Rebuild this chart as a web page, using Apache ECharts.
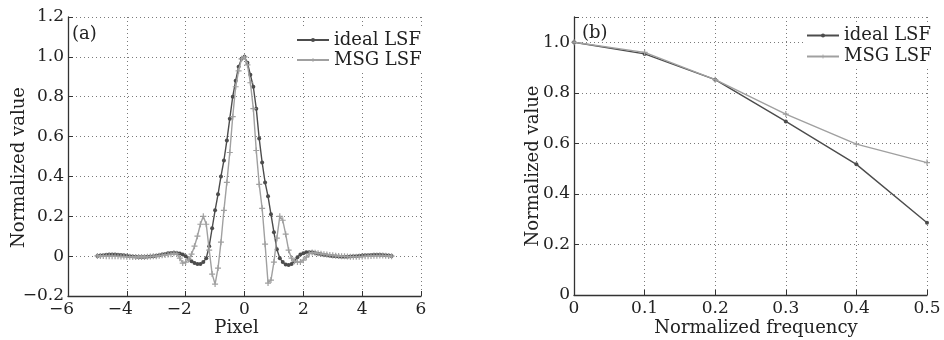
<!DOCTYPE html>
<html>
<head>
<meta charset="utf-8">
<script src="https://cdn.jsdelivr.net/npm/echarts@6/dist/echarts.min.js"></script>
<style>
  html, body { margin: 0; padding: 0; background: #fff; }
  #chart { width: 944px; height: 340px; }
</style>
</head>
<body>
<div id="chart"></div>
<script>
// (a) line spread functions, sampled every 0.1 pixel
const pixelX = [
  -5.0, -4.9, -4.8, -4.7, -4.6, -4.5, -4.4, -4.3, -4.2, -4.1,
  -4.0, -3.9, -3.8, -3.7, -3.6, -3.5, -3.4, -3.3, -3.2, -3.1,
  -3.0, -2.9, -2.8, -2.7, -2.6, -2.5, -2.4, -2.3, -2.2, -2.1,
  -2.0, -1.9, -1.8, -1.7, -1.6, -1.5, -1.4, -1.3, -1.2, -1.1,
  -1.0, -0.9, -0.8, -0.7, -0.6, -0.5, -0.4, -0.3, -0.2, -0.1,
  0.0, 0.1, 0.2, 0.3, 0.4, 0.5, 0.6, 0.7, 0.8, 0.9,
  1.0, 1.1, 1.2, 1.3, 1.4, 1.5, 1.6, 1.7, 1.8, 1.9,
  2.0, 2.1, 2.2, 2.3, 2.4, 2.5, 2.6, 2.7, 2.8, 2.9,
  3.0, 3.1, 3.2, 3.3, 3.4, 3.5, 3.6, 3.7, 3.8, 3.9,
  4.0, 4.1, 4.2, 4.3, 4.4, 4.5, 4.6, 4.7, 4.8, 4.9,
  5.0
];

const idealLSF = [
  0.001, 0.003, 0.005, 0.007, 0.008, 0.008, 0.008, 0.007, 0.006, 0.004,
  0.002, 0.000, -0.002, -0.003, -0.004, -0.004, -0.004, -0.003, -0.002, 0.000,
  0.002, 0.005, 0.008, 0.011, 0.014, 0.016, 0.017, 0.016, 0.013, 0.008,
  0.000, -0.012, -0.025, -0.035, -0.040, -0.040, -0.030, -0.010, 0.050, 0.140,
  0.230, 0.310, 0.400, 0.480, 0.580, 0.690, 0.800, 0.880, 0.950, 0.990,
  1.000, 0.970, 0.910, 0.850, 0.740, 0.590, 0.470, 0.370, 0.300, 0.210,
  0.120, 0.035, -0.010, -0.030, -0.042, -0.045, -0.040, -0.025, -0.005, 0.008,
  0.015, 0.019, 0.020, 0.019, 0.016, 0.012, 0.009, 0.006, 0.004, 0.002,
  0.000, -0.001, -0.002, -0.003, -0.003, -0.003, -0.002, -0.001, 0.000, 0.002,
  0.003, 0.004, 0.005, 0.006, 0.007, 0.007, 0.007, 0.006, 0.005, 0.003,
  0.001
];

const msgLSF = [
  0.001, 0.001, 0.001, 0.000, 0.000, 0.000, -0.001, -0.001, -0.002, -0.002,
  -0.003, -0.003, -0.004, -0.004, -0.004, -0.004, -0.004, -0.003, -0.002, -0.001,
  0.000, 0.002, 0.004, 0.006, 0.008, 0.010, 0.014, 0.012, -0.010, -0.035,
  -0.030, -0.015, 0.010, 0.050, 0.100, 0.160, 0.200, 0.160, 0.030, -0.090,
  -0.140, -0.060, 0.070, 0.230, 0.370, 0.520, 0.700, 0.850, 0.930, 0.990,
  1.000, 0.960, 0.870, 0.740, 0.530, 0.360, 0.240, 0.060, -0.135, -0.120,
  -0.030, 0.090, 0.200, 0.180, 0.110, 0.030, -0.010, -0.025, -0.030, -0.030,
  -0.020, -0.005, 0.012, 0.018, 0.017, 0.014, 0.012, 0.010, 0.008, 0.006,
  0.004, 0.002, 0.001, 0.000, -0.001, -0.002, -0.003, -0.003, -0.003, -0.003,
  -0.002, -0.001, 0.000, 0.001, 0.002, 0.002, 0.003, 0.003, 0.002, 0.001,
  0.000
];

// (b) response vs normalized frequency
const freq = [0, 0.1, 0.2, 0.3, 0.4, 0.5];
const idealMTF = [1.0, 0.954, 0.852, 0.687, 0.517, 0.286];
const msgMTF = [1.0, 0.960, 0.852, 0.716, 0.597, 0.524];

const seriesNames = ['ideal LSF', 'MSG LSF'];

const FONT = '"DejaVu Serif", serif';
const TEXT = '#222';
const AXIS = '#333';
const DARK = '#4c4c4c';
const LIGHT = '#a0a0a0';
const PLUS = 'path://M2,0H3V2H5V3H3V5H2V3H0V2H2Z';

const chart = echarts.init(document.getElementById('chart'));

const fmtDec = (v) => {
  if (Math.abs(v) < 1e-9) return '0';
  return (v < 0 ? '\u2212' : '') + Math.abs(v).toFixed(1);
};

// negative pixel labels: keep digit centred on the tick, minus hangs left
const fmtPixel = (v) => {
  if (v < 0) return '{m|\u2212}' + Math.abs(v) + '{s|}';
  return String(v);
};

const gridLine = { show: true, lineStyle: { color: '#7a7a7a', width: 1, type: [1, 3] } };
const axisLine = { show: true, onZero: false, lineStyle: { color: AXIS, width: 1.3 } };
const axisTick = { show: true, inside: true, length: 5, lineStyle: { color: AXIS, width: 1 } };
const nameStyle = (pad) => ({ fontFamily: FONT, fontSize: 18, color: TEXT, padding: pad });

const lineSeries = (name, xs, ys, axisIdx) => {
  const dark = name === seriesNames[0];
  return {
    name,
    type: 'line',
    xAxisIndex: axisIdx,
    yAxisIndex: axisIdx,
    data: xs.map((x, i) => [x, ys[i]]),
    symbol: dark ? 'circle' : PLUS,
    symbolSize: dark ? 4 : 6,
    lineStyle: { color: dark ? DARK : LIGHT, width: 1.4 },
    itemStyle: { color: dark ? DARK : LIGHT },
    z: dark ? 2 : 3,
    animation: false
  };
};

const legendBase = {
  orient: 'vertical',
  data: seriesNames,
  itemWidth: 32,
  itemHeight: 5,
  itemGap: 0,
  padding: 2,
  backgroundColor: '#fff',
  selectedMode: false,
  textStyle: { fontFamily: FONT, fontSize: 18, color: TEXT, lineHeight: 20 }
};

const option = {
  backgroundColor: '#fff',
  animation: false,
  textStyle: { fontFamily: FONT, color: TEXT },
  title: [
    { text: '(a)', left: 72, top: 25, padding: 0, textStyle: { fontFamily: FONT, fontSize: 18, fontWeight: 'normal', color: TEXT } },
    { text: '(b)', left: 582, top: 24, padding: 0, textStyle: { fontFamily: FONT, fontSize: 18, fontWeight: 'normal', color: TEXT } }
  ],
  legend: [
    Object.assign({}, legendBase, { left: 294, top: 28 }),
    Object.assign({}, legendBase, { left: 804, top: 23, textStyle: Object.assign({}, legendBase.textStyle, { lineHeight: 21 }) })
  ],
  grid: [
    { left: 68, top: 17, width: 353, height: 279, containLabel: false, outerBoundsMode: 'none' },
    { left: 574, top: 17, width: 353, height: 278, containLabel: false, outerBoundsMode: 'none' }
  ],
  xAxis: [
    {
      gridIndex: 0, type: 'value', min: -6, max: 6, interval: 2,
      axisLine, axisTick, splitLine: gridLine,
      axisLabel: {
        fontFamily: FONT, fontSize: 17, color: TEXT, margin: 5, formatter: fmtPixel,
        rich: { m: { fontFamily: FONT, fontSize: 17, color: TEXT }, s: { width: 13 } }
      },
      name: 'Pixel', nameLocation: 'middle', nameGap: 23, nameMoveOverlap: false,
      nameTextStyle: nameStyle([0, 16, 0, 0])
    },
    {
      gridIndex: 1, type: 'value', min: 0, max: 0.5, interval: 0.1,
      axisLine, axisTick, splitLine: gridLine,
      axisLabel: { fontFamily: FONT, fontSize: 17, color: TEXT, margin: 5, formatter: fmtDec },
      name: 'Normalized frequency', nameLocation: 'middle', nameGap: 24, nameMoveOverlap: false,
      nameTextStyle: nameStyle([0, 0, 0, 11])
    }
  ],
  yAxis: [
    {
      gridIndex: 0, type: 'value', min: -0.2, max: 1.2, interval: 0.2,
      axisLine, axisTick, splitLine: gridLine,
      axisLabel: { fontFamily: FONT, fontSize: 17, color: TEXT, margin: 4, formatter: fmtDec },
      name: 'Normalized value', nameLocation: 'middle', nameGap: 40, nameMoveOverlap: false,
      nameTextStyle: nameStyle([0, 22, 0, 0])
    },
    {
      gridIndex: 1, type: 'value', min: 0, max: 1.1, interval: 0.2,
      axisLine, axisTick, splitLine: gridLine,
      axisLabel: {
        fontFamily: FONT, fontSize: 17, color: TEXT, margin: 4,
        formatter: (v) => (v > 1.05 ? '' : fmtDec(v))
      },
      name: 'Normalized value', nameLocation: 'middle', nameGap: 32, nameMoveOverlap: false,
      nameTextStyle: nameStyle([0, 20, 0, 0])
    }
  ],
  series: [
    lineSeries(seriesNames[0], pixelX, idealLSF, 0),
    lineSeries(seriesNames[1], pixelX, msgLSF, 0),
    lineSeries(seriesNames[0], freq, idealMTF, 1),
    lineSeries(seriesNames[1], freq, msgMTF, 1)
  ]
};

chart.setOption(option);
</script>
</body>
</html>
